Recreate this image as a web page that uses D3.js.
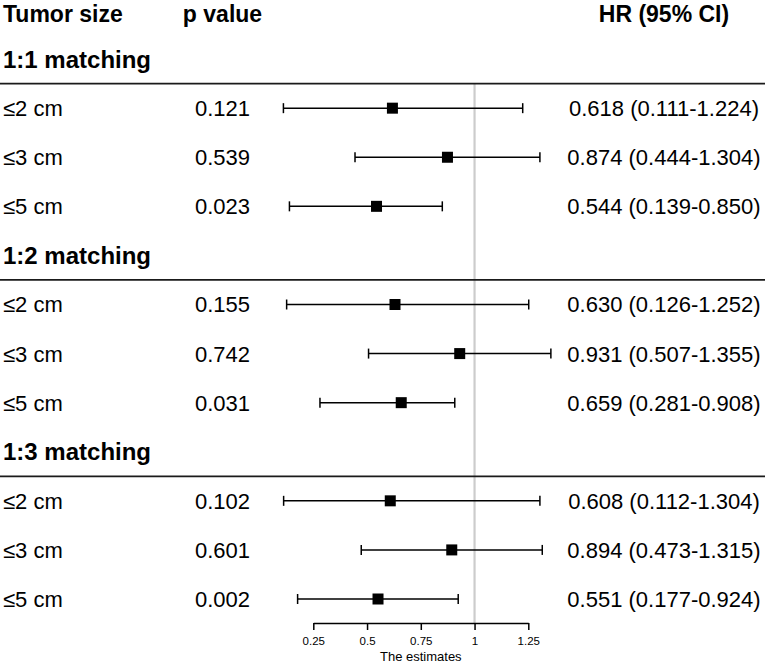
<!DOCTYPE html>
<html>
<head>
<meta charset="utf-8">
<script src="https://cdn.jsdelivr.net/npm/d3@7"></script>
<style>
  body { margin: 0; background: #fff; }
  svg { display: block; font-family: "Liberation Sans", Arial, sans-serif; }
</style>
</head>
<body>
<div id="forest"></div>
<script>
// Chart data
const groups = ['1:1 matching', '1:2 matching', '1:3 matching'];
const sizes = ['≤2 cm', '≤3 cm', '≤5 cm'];
const pValues = ['0.121', '0.539', '0.023', '0.155', '0.742', '0.031', '0.102', '0.601', '0.002'];
const hr = [0.618, 0.874, 0.544, 0.630, 0.931, 0.659, 0.608, 0.894, 0.551];
const lower = [0.111, 0.444, 0.139, 0.126, 0.507, 0.281, 0.112, 0.473, 0.177];
const upper = [1.224, 1.304, 0.850, 1.252, 1.355, 0.908, 1.304, 1.315, 0.924];
const ticks = [0.25, 0.5, 0.75, 1, 1.25];

const width = 765;
const height = 664;

const svg = d3.select('#forest')
  .append('svg')
  .attr('width', width)
  .attr('height', height);

// Row index -> vertical centre (row 0 is the header)
const yRow = d3.scaleLinear().domain([0, 12]).range([10, 599]);
// Estimate -> x
const x = d3.scaleLinear().domain([0.25, 1.25]).range([313.3, 528.3]);

const colSize = 3;
const colP = 222.5;
const colHR = 664;

// Build the table rows
const rows = [];
groups.forEach((g, gi) => {
  const base = 1 + gi * 4;
  rows.push({ type: 'group', label: g, row: base });
  sizes.forEach((s, si) => {
    const k = gi * 3 + si;
    rows.push({
      type: 'item', label: s, row: base + 1 + si,
      p: pValues[k], hr: hr[k], lo: lower[k], hi: upper[k]
    });
  });
});

// Reference line at 1
svg.append('line')
  .attr('x1', x(1)).attr('x2', x(1))
  .attr('y1', yRow(1.5)).attr('y2', 623)
  .attr('stroke', '#cccccc')
  .attr('stroke-width', 2.2);

// Header (baseline kept low enough that nothing is clipped at the top)
const header = svg.append('g')
  .style('font-weight', 'bold')
  .style('font-size', '23px');
header.append('text').attr('x', colSize).attr('y', 22).text('Tumor size');
header.append('text').attr('x', colP).attr('y', 22)
  .attr('text-anchor', 'middle').text('p value');
header.append('text').attr('x', colHR).attr('y', 22)
  .attr('text-anchor', 'middle').text('HR (95% CI)');

// Group titles and separators
const groupRows = rows.filter(d => d.type === 'group');
svg.selectAll('.group-label')
  .data(groupRows)
  .enter()
  .append('text')
  .attr('class', 'group-label')
  .attr('x', colSize)
  .attr('y', d => yRow(d.row))
  .attr('dy', '0.36em')
  .style('font-weight', 'bold')
  .style('font-size', '24px')
  .text(d => d.label);

svg.selectAll('.sep')
  .data(groupRows)
  .enter()
  .append('line')
  .attr('class', 'sep')
  .attr('x1', 0).attr('x2', width)
  .attr('y1', d => yRow(d.row + 0.5)).attr('y2', d => yRow(d.row + 0.5))
  .attr('stroke', '#1a1a1a')
  .attr('stroke-width', 1.8);

// Item rows
const items = rows.filter(d => d.type === 'item');
const item = svg.selectAll('.item')
  .data(items)
  .enter()
  .append('g')
  .attr('class', 'item')
  .attr('transform', d => `translate(0,${yRow(d.row)})`);

item.append('text')
  .attr('x', colSize).attr('dy', '0.36em')
  .style('font-size', '22px')
  .text(d => d.label);

item.append('text')
  .attr('x', colP).attr('dy', '0.36em')
  .attr('text-anchor', 'middle')
  .style('font-size', '22px')
  .text(d => d.p);

item.append('text')
  .attr('x', colHR).attr('dy', '0.36em')
  .attr('text-anchor', 'middle')
  .style('font-size', '22px')
  .text(d => `${d.hr.toFixed(3)} (${d.lo.toFixed(3)}-${d.hi.toFixed(3)})`);

// Confidence intervals
item.append('line')
  .attr('x1', d => x(d.lo)).attr('x2', d => x(d.hi))
  .attr('stroke', '#000').attr('stroke-width', 1.5);
item.append('line')
  .attr('x1', d => x(d.lo)).attr('x2', d => x(d.lo))
  .attr('y1', -5).attr('y2', 5)
  .attr('stroke', '#000').attr('stroke-width', 1.5);
item.append('line')
  .attr('x1', d => x(d.hi)).attr('x2', d => x(d.hi))
  .attr('y1', -5).attr('y2', 5)
  .attr('stroke', '#000').attr('stroke-width', 1.5);
item.append('rect')
  .attr('x', d => x(d.hr) - 5.5).attr('y', -5.5)
  .attr('width', 11).attr('height', 11)
  .attr('fill', '#000');

// Axis
const axis = svg.append('g')
  .attr('transform', 'translate(0,623)')
  .call(d3.axisBottom(x).tickValues(ticks).tickSize(7).tickSizeOuter(0).tickFormat(d3.format('')));
axis.select('.domain').attr('stroke', '#000').attr('stroke-width', 1.5);
axis.selectAll('.tick line').attr('stroke', '#000').attr('stroke-width', 1.5);
axis.selectAll('.tick text')
  .attr('y', 14)
  .style('font-size', '11.5px')
  .style('font-family', '"Liberation Sans", Arial, sans-serif')
  .attr('fill', '#000');

svg.append('text')
  .attr('x', (x(0.25) + x(1.25)) / 2)
  .attr('y', 661)
  .attr('text-anchor', 'middle')
  .style('font-size', '13px')
  .text('The estimates');
</script>
</body>
</html>
